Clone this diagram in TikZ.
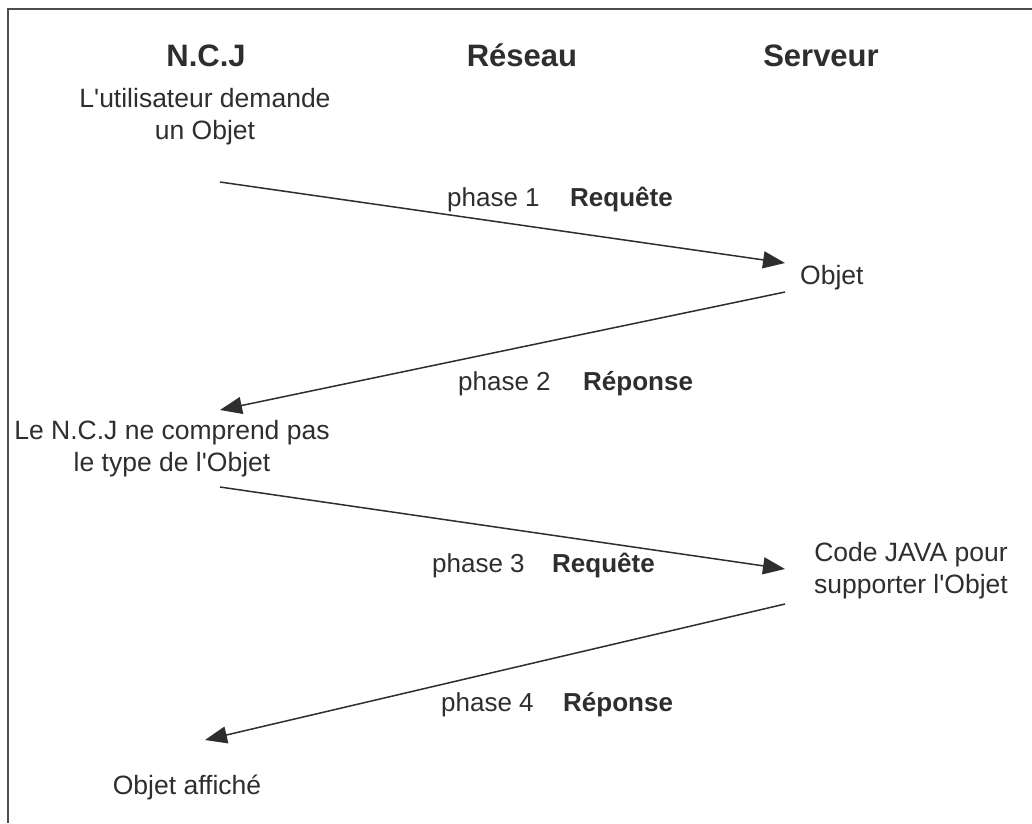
\documentclass[tikz,border=0pt]{standalone}
\usepackage{fontspec}
\setmainfont{Liberation Sans}
\usetikzlibrary{arrows.meta}
\definecolor{ink}{rgb}{0.18,0.18,0.18}
\newcommand{\apos}{\textquotesingle}
\begin{document}
\begin{tikzpicture}[x=1pt,y=-1pt,
  hdr/.style={font=\fontsize{31}{36}\selectfont\bfseries, text=ink, inner sep=0pt, anchor=base},
  txt/.style={font=\fontsize{26.5}{32}\selectfont, text=ink, align=center, inner sep=0pt},
  lbl/.style={font=\fontsize{26}{31}\selectfont, text=ink, anchor=base west, inner sep=0pt},
  conn/.style={draw=ink, line width=1.5pt, -{Triangle[length=22pt,width=17pt]}},
  frame/.style={draw=ink!85, line width=2pt}]
\useasboundingbox (0,0) rectangle (1032,823);
\fill[white] (0,0) rectangle (1032,823);
% frame
\coordinate (fr) at (1032,9);
\coordinate (ftl) at (8,9);
\coordinate (fbl) at (8,823);
\draw[frame] (fr) -- (ftl) -- (fbl);
% headers
\node[hdr] (ncj) at (206,66) {N.C.J};
\node[hdr] (res) at (522,66) {Réseau};
\node[hdr] (srv) at (821,66) {Serveur};
% texts
\node[txt] (t1) at (205,117) {L\apos utilisateur demande\\un Objet};
\node[txt, anchor=west] (t2) at (800,278) {Objet};
\node[txt] (t3) at (172,449) {Le N.C.J ne comprend pas\\le type de l\apos Objet};
\node[txt] (t4) at (911,571) {Code JAVA pour\\supporter l\apos Objet};
\node[txt] (t5) at (187,787) {Objet affiché};
% phase labels
\node[lbl] (p1) at (447,206) {phase 1};
\node[lbl] (q1) at (570,206) {\bfseries Requête};
\node[lbl] (p2) at (458,390) {phase 2};
\node[lbl] (r2) at (583,390) {\bfseries Réponse};
\node[lbl] (p3) at (432,572) {phase 3};
\node[lbl] (q3) at (552,572) {\bfseries Requête};
\node[lbl] (p4) at (441,711) {phase 4};
\node[lbl] (r4) at (563,711) {\bfseries Réponse};
% connector ends
\coordinate (a1s) at (220,182);
\coordinate (a1e) at (785,263);
\coordinate (a2s) at (785,292);
\coordinate (a2e) at (220,410);
\coordinate (a3s) at (220,487);
\coordinate (a3e) at (785,569);
\coordinate (a4s) at (785,604);
\coordinate (a4e) at (205,740);
\draw[conn] (a1s) -- (a1e);
\draw[conn] (a2s) -- (a2e);
\draw[conn] (a3s) -- (a3e);
\draw[conn] (a4s) -- (a4e);
\end{tikzpicture}
\end{document}
